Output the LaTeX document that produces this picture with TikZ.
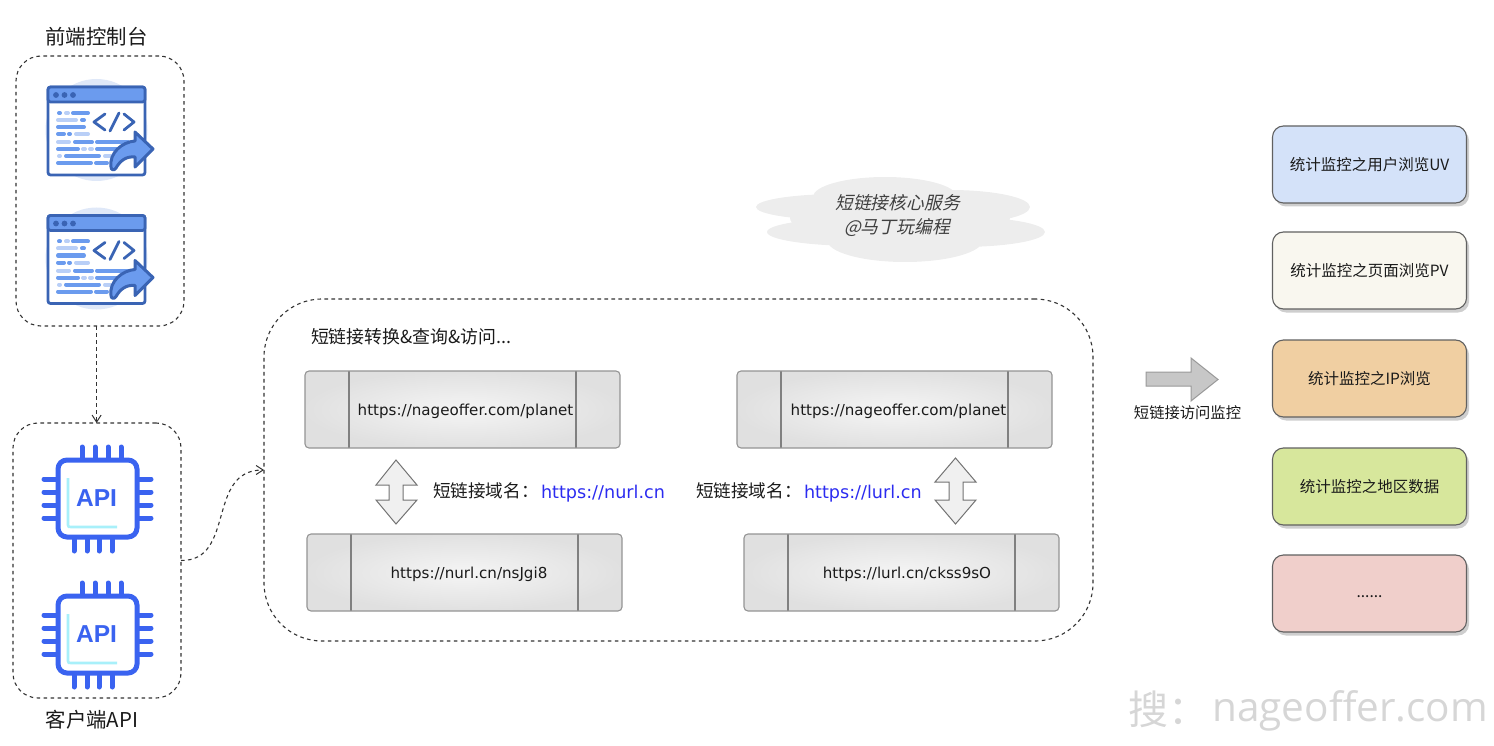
\documentclass[tikz,border=0pt]{standalone}
\usepackage{fontspec}
\setmainfont{Noto Sans CJK SC}
\newfontfamily\urlfont{DejaVu Sans}
\newfontfamily\slantfont[FakeSlant=0.22]{Noto Sans CJK SC}
\newfontfamily\apifont{Liberation Sans}
\newfontfamily\markfont{Open Sans}
\usetikzlibrary{arrows.meta,shadows}
\definecolor{winblue}{HTML}{3A64B4}
\definecolor{winmed}{HTML}{6B9BEE}
\definecolor{winlight}{HTML}{B9CFF7}
\definecolor{winhalo}{HTML}{DFE8F8}
\definecolor{chipblue}{HTML}{3A63F0}
\definecolor{chipcyan}{HTML}{A8F0FA}
\definecolor{linkblue}{HTML}{2B2BF0}
\definecolor{inkc}{HTML}{1A1A1A}
\definecolor{statblue}{HTML}{D4E2F9}
\definecolor{statcream}{HTML}{F9F7EF}
\definecolor{statorange}{HTML}{F0CFA2}
\definecolor{statgreen}{HTML}{D7E79C}
\definecolor{statpink}{HTML}{F0CFCB}
\definecolor{markgray}{HTML}{D6D6D6}
\newcommand{\lowered}[1]{\raisebox{-5.5pt}[0pt][0pt]{#1}}
\tikzset{
  x=1pt,y=-1pt,
  every node/.style={inner sep=0pt,outer sep=0pt,text=inkc},
  dashbox/.style={draw=black!80,line width=1.1pt,dash pattern=on 3.6pt off 3.4pt,rounded corners=#1,fill=none},
  dashlink/.style={draw=black!80,line width=1.1pt,dash pattern=on 3.6pt off 3.4pt,-{Straight Barb[length=7pt,width=9pt,line width=1pt]}},
  procbox/.style={draw=black!42,line width=1.1pt,rounded corners=4pt,minimum width=315pt,minimum height=77pt,
    inner color=black!4,outer color=black!12,font=\urlfont\fontsize{15.1}{17}\selectfont,
    path picture={
      \draw[black!50,line width=1.1pt] ([xshift=44pt]path picture bounding box.south west) -- ([xshift=44pt]path picture bounding box.north west);
      \draw[black!50,line width=1.1pt] ([xshift=-44pt]path picture bounding box.south east) -- ([xshift=-44pt]path picture bounding box.north east);
    }},
  statbox/.style={draw=black!62,line width=1.1pt,rounded corners=11pt,minimum width=194pt,minimum height=77pt,
    fill=#1,font=\fontsize{15.5}{18}\selectfont,
    drop shadow={shadow xshift=2.5pt,shadow yshift=-3.5pt,fill=black!35,opacity=.55}},
  flatlabel/.style={font=\fontsize{#1}{22}\selectfont},
  urllabel/.style={font=\urlfont\fontsize{17.6}{19}\selectfont,text=linkblue},
  blockshape/.style={draw=black!55,line width=1pt,fill=#1},
  codelight/.style={line width=4pt,line cap=round,draw=winlight},
  codemed/.style={line width=4pt,line cap=round,draw=winmed},
  pin/.style={line width=5pt,line cap=round,draw=chipblue},
  browser/.pic={
    \fill[winhalo] (48.5,43) circle[radius=51];
    \draw[winblue,line width=2.8pt,fill=white,rounded corners=2.5pt] (0,0) rectangle (97,88);
    \draw[winblue,line width=2.8pt,fill=winmed,rounded corners=2.5pt] (0,0) rectangle (97,15);
    \fill[winblue] (8,8) circle[radius=2.9] (16.5,8) circle[radius=2.9] (25,8) circle[radius=2.9];
    \draw[codemed] (11,26)--(12,26) (25,26)--(40,26) (34,33)--(36,33) (10,40)--(36,40) (10,47)--(16,47) (21,47)--(22,47) (27,55)--(44,55) (49,55)--(80,55) (10,62)--(30,62) (49,62)--(80,62) (18,69)--(51,69) (10,76)--(43,76) (48,76)--(59,76);
    \draw[codelight] (18,26)--(20,26) (10,33)--(28,33) (28,47)--(40,47) (10,55)--(21,55) (35,62)--(37,62) (42,62)--(44,62) (11,69)--(12,69) (57,69)--(67,69);
    \draw[winblue,line width=2.8pt,line cap=round,line join=round] (57,27)--(46,35)--(57,43) (71,26)--(62,44) (76,27)--(86,35)--(76,43);
    \draw[winblue,fill=winmed,line width=3pt,line join=round] (105,62)--(87,45)--(87,54) .. controls (74,55) and (61,66) .. (63,80) .. controls (63,83) and (66,84) .. (68,81) .. controls (72,74) and (78,69) .. (87,70)--(87,80)--cycle;
  },
  chip/.pic={
    \foreach \xa in {24,37,50,63} \draw[pin] (\xa,-13)--(\xa,0);
    \foreach \xb in {16,29,41,54} \draw[pin] (\xb,77)--(\xb,91);
    \foreach \ya in {19,32,45,58} {\draw[pin] (-14,\ya)--(0,\ya); \draw[pin] (79,\ya)--(93,\ya);}
    \draw[chipblue,line width=5pt,fill=white,rounded corners=9pt] (0,0) rectangle (79,77);
    \draw[chipcyan,line width=2.6pt] (10,18)--(10,65) .. controls (10,67) and (11,67) .. (13,67) -- (59,67);
    \node[font=\apifont\bfseries\fontsize{24.5}{26}\selectfont,text=chipblue] (-t) at (38.5,38) {API};
  },
}
\begin{document}
\begin{tikzpicture}
\useasboundingbox (0,0) rectangle (1494,746);
% dashed containers
\node[dashbox=25pt,minimum width=168pt,minimum height=270pt] (frontbox) at (100,191) {};
\node[dashbox=25pt,minimum width=168pt,minimum height=275pt] (apibox) at (97,560.5) {};
\node[dashbox=58pt,minimum width=829pt,minimum height=342pt] (corebox) at (678.5,470) {};
\node[flatlabel=20.4] (fronttitle) at (96.5,37) {前端控制台};
\node[flatlabel=20.4] (apititle) at (92,720) {客户端API};
% icons
\pic (wina) at (48,87) {browser};
\pic (winb) at (48,215.5) {browser};
\pic (chipa) at (58,460) {chip};
\pic (chipb) at (58,596) {chip};
% connectors
\draw[dashlink] ([xshift=-0.4pt]frontbox.south -| apibox.north) -- ([xshift=-0.4pt]apibox.north);
\draw[dashlink] (apibox.east) .. controls (236,561) and (206,470) .. (corebox.west);
% cloud
\fill[black!7]
  (840,207) ellipse[x radius=84,y radius=13]
  (885,197) ellipse[x radius=72,y radius=20]
  (950,207) ellipse[x radius=80,y radius=17]
  (860,232) ellipse[x radius=93,y radius=14]
  (960,232) ellipse[x radius=85,y radius=15]
  (905,240) ellipse[x radius=78,y radius=22]
  (900,218) ellipse[x radius=110,y radius=25];
\node[font=\slantfont\fontsize{17.8}{20}\selectfont,text=black!75] (cloudtop) at (897.5,203) {短链接核心服务};
\node[font=\slantfont\fontsize{17.8}{20}\selectfont,text=black!75] (cloudbot) at (897,228) {@马丁玩编程};
% core contents
\node[flatlabel=17.9,anchor=west] (coretitle) at (311,337) {短链接转换\&查询\&访问...};
\node[procbox] (p1) at (462.5,409.5) {\hspace*{6pt}\lowered{https://nageoffer.com/planet}};
\node[procbox] (p2) at (464.5,572.5) {\hspace*{9pt}\lowered{https://nurl.cn/nsJgi8}};
\node[procbox] (p3) at (894.5,409.5) {\hspace*{8pt}\lowered{https://nageoffer.com/planet}};
\node[procbox] (p4) at (901.5,572.5) {\hspace*{11pt}\lowered{https://lurl.cn/ckss9sO}};
\draw[blockshape=black!6] (396,460)--(417,485)--(403,485)--(403,500)--(417,500)--(396,524)--(376,500)--(389,500)--(389,485)--(376,485)--cycle;
\draw[blockshape=black!6] (955.5,458)--(976,482)--(963,482)--(963,500)--(976,500)--(955.5,524)--(935,500)--(949,500)--(949,482)--(935,482)--cycle;
\node[flatlabel=17.6,anchor=west] (nlabel) at (433,491) {短链接域名：};
\node[urllabel,anchor=west] (nurl) at (541,494) {https://nurl.cn};
\node[flatlabel=17.6,anchor=west] (llabel) at (696,491) {短链接域名：};
\node[urllabel,anchor=west] (lurl) at (804,494) {https://lurl.cn};
% monitor arrow
\draw[draw=black!40,line width=1pt,fill=black!22] (1146,372)--(1191,372)--(1191,358)--(1218,379.5)--(1191,401)--(1191,386)--(1146,386)--cycle;
\node[flatlabel=15.3] (monlabel) at (1187.5,413) {短链接访问监控};
% stat boxes
\node[statbox=statblue] (s1) at (1369.5,164.5) {统计监控之用户浏览UV};
\node[statbox=statcream] (s2) at (1369.5,270.5) {统计监控之页面浏览PV};
\node[statbox=statorange] (s3) at (1369.5,378.5) {统计监控之IP浏览};
\node[statbox=statgreen] (s4) at (1369.5,486.5) {统计监控之地区数据};
\node[statbox=statpink] (s5) at (1369.5,593.5) {\raisebox{-3.5pt}[0pt][0pt]{......}};
% watermark
\node[anchor=west,font=\fontsize{40}{42}\selectfont,text=markgray] (markcn) at (1128,709) {搜：};
\node[anchor=east,font=\markfont\fontsize{40.5}{42}\selectfont,text=markgray] (markurl) at (1488,711) {nageoffer.com};
\end{tikzpicture}
\end{document}
